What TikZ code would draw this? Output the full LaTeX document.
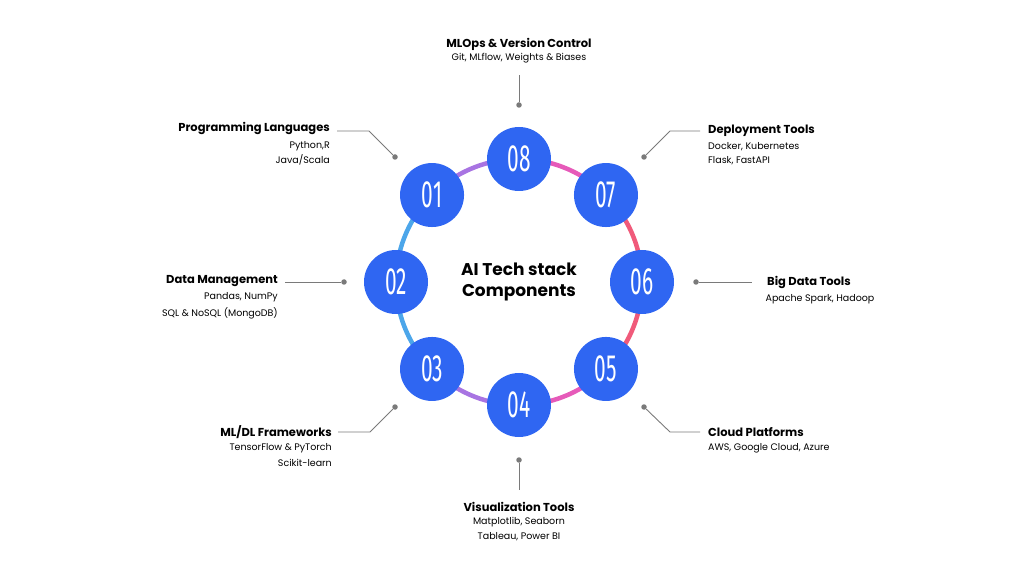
\documentclass[tikz,border=0pt]{standalone}
\usepackage{fontspec}
\usepackage{graphicx}
\usetikzlibrary{calc}
\setmainfont{Poppins}
\newfontfamily\numfont{Fira Sans}
\definecolor{nodeblue}{HTML}{2F66F2}
\definecolor{ringpurple}{HTML}{A874E2}
\definecolor{ringpink}{HTML}{E65AB9}
\definecolor{ringred}{HTML}{F05A7A}
\definecolor{ringblue}{HTML}{4CA6EA}
\definecolor{leadgray}{HTML}{7A7A7A}
\tikzset{
  num/.style={circle, fill=nodeblue, minimum size=64pt, inner sep=0pt,
    text=white, font=\numfont\fontsize{38}{38}\selectfont},
  ring/.style={line width=4.5pt},
  lead/.style={leadgray, line width=0.9pt},
  dot/.style={circle, fill=leadgray, inner sep=0pt, minimum size=5.5pt},
  head/.style={font=\fontsize{11.5}{13}\selectfont\bfseries, inner sep=0pt},
  sub/.style={font=\fontsize{9.5}{11}\selectfont, inner sep=0pt},
}
\begin{document}
\begin{tikzpicture}[x=1pt,y=1pt]
  \useasboundingbox (0,0) rectangle (1024,581);
  \coordinate (O) at (519,299);
  % ring segments
  \draw[ring, ringpurple] (O) ++(90:123) arc (90:135:123);
  \draw[ring, ringpink]   (O) ++(45:123) arc (45:90:123);
  \draw[ring, ringred]    (O) ++(0:123) arc (0:45:123);
  \draw[ring, ringred]    (O) ++(-45:123) arc (-45:0:123);
  \draw[ring, ringpink]   (O) ++(-90:123) arc (-90:-45:123);
  \draw[ring, ringpurple] (O) ++(-135:123) arc (-135:-90:123);
  \draw[ring, ringblue]   (O) ++(180:123) arc (180:225:123);
  \draw[ring, ringblue]   (O) ++(135:123) arc (135:180:123);
  % numbered nodes
  \foreach \n/\a in {08/90,07/45,06/0,05/-45,04/-90,03/-135,02/180,01/135}
    \node[num] (n\n) at ($(O)+(\a:123)$) {\scalebox{0.55}[1]{\n}};
  \node[font=\fontsize{17}{21}\selectfont\bfseries, align=center] (title) at (O) {AI Tech stack\\Components};
  % 08
  \node[dot] (d8) at (519,476) {};
  \coordinate (e8) at (519,506);
  \draw[lead] (d8) -- (e8);
  \node[head] (h8) at (519,537) {MLOps \& Version Control};
  \node[sub] (s8) at (519,523) {Git, MLflow, Weights \& Biases};
  % 07
  \node[dot] (d7) at (644,424) {};
  \coordinate (k7) at (670,450);
  \coordinate (e7) at (700,450);
  \draw[lead] (d7) -- (k7) -- (e7);
  \node[head, anchor=west] (h7) at (708,450) {Deployment Tools};
  \node[sub, anchor=west] (s7a) at (708,434) {Docker, Kubernetes};
  \node[sub, anchor=west] (s7b) at (708,420) {Flask, FastAPI};
  % 06
  \node[dot] (d6) at (696,299) {};
  \coordinate (e6) at (752,299);
  \draw[lead] (d6) -- (e6);
  \node[head] (h6) at (809,299) {Big Data Tools};
  \node[sub] (s6) at (820,282) {Apache Spark, Hadoop};
  % 05
  \node[dot] (d5) at (644,174) {};
  \coordinate (k5) at (670,149);
  \coordinate (e5) at (700,149);
  \draw[lead] (d5) -- (k5) -- (e5);
  \node[head, anchor=west] (h5) at (708,149) {Cloud Platforms};
  \node[sub, anchor=west] (s5) at (708,133) {AWS, Google Cloud, Azure};
  % 04
  \node[dot] (d4) at (519,121) {};
  \coordinate (e4) at (519,91);
  \draw[lead] (d4) -- (e4);
  \node[head] (h4) at (519,74) {Visualization Tools};
  \node[sub] (s4a) at (519,59) {Matplotlib, Seaborn};
  \node[sub] (s4b) at (519,44) {Tableau, Power BI};
  % 03
  \node[dot] (d3) at (395,174) {};
  \coordinate (k3) at (370,149);
  \coordinate (e3) at (338,149);
  \draw[lead] (d3) -- (k3) -- (e3);
  \node[head, anchor=east] (h3) at (332,149) {ML/DL Frameworks};
  \node[sub, anchor=east] (s3a) at (332,133) {TensorFlow \& PyTorch};
  \node[sub, anchor=east] (s3b) at (332,118) {Scikit-learn};
  % 02
  \node[dot] (d2) at (344,299) {};
  \coordinate (e2) at (285,299);
  \draw[lead] (d2) -- (e2);
  \node[head, anchor=east] (h2) at (278,300) {Data Management};
  \node[sub, anchor=east] (s2a) at (278,284) {Pandas, NumPy};
  \node[sub, anchor=east] (s2b) at (278,268) {SQL \& NoSQL (MongoDB)};
  % 01
  \node[dot] (d1) at (395,424) {};
  \coordinate (k1) at (369,450);
  \coordinate (e1) at (337,450);
  \draw[lead] (d1) -- (k1) -- (e1);
  \node[head, anchor=east] (h1) at (330,453) {Programming Languages};
  \node[sub, anchor=east] (s1a) at (330,435) {Python,R};
  \node[sub, anchor=east] (s1b) at (330,421) {Java/Scala};
\end{tikzpicture}
\end{document}
